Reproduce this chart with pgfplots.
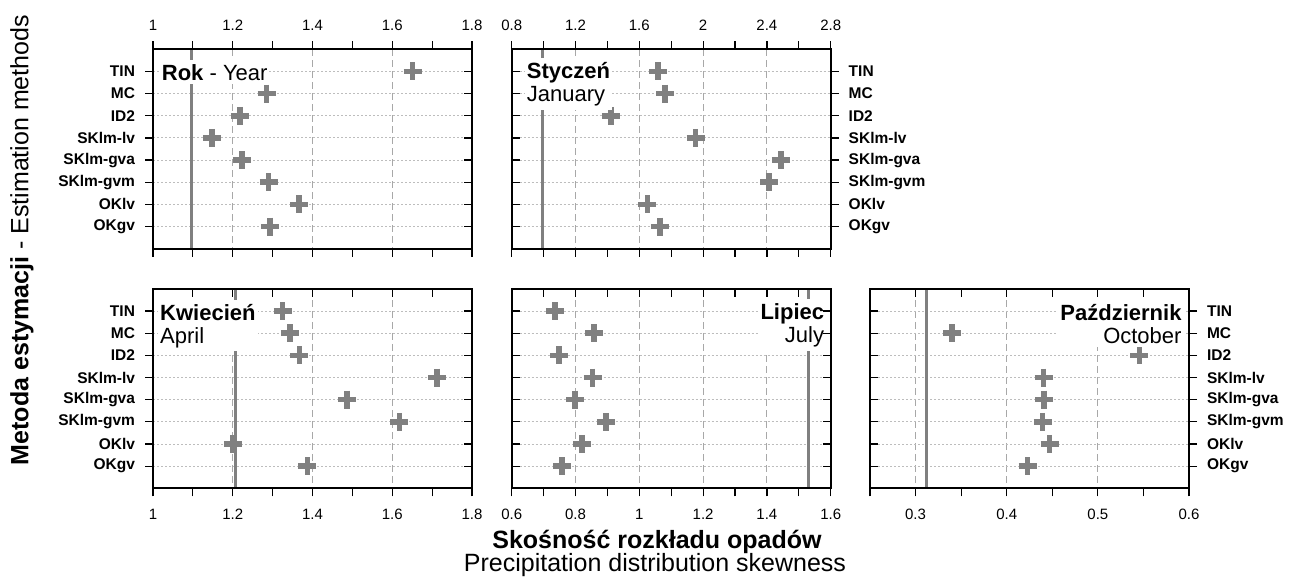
\documentclass[border=0pt]{standalone}
\usepackage{fontspec}
\setmainfont{Liberation Sans}
\usepackage{pgfplots}
\pgfplotsset{compat=1.18}

\definecolor{markgray}{HTML}{808080}
\definecolor{gridgray}{HTML}{A8A8A8}
\definecolor{dotgray}{HTML}{BDBDBD}

\pgfplotsset{
  skewpanel/.style={
    scale only axis, width=319pt, height=199.4pt, anchor=south west,
    ymin=0, ymax=9, y dir=reverse,
    ytick={1,2,3,4,5,6,7,8},
    yticklabels={TIN,MC,ID2,SKlm-lv,SKlm-gva,SKlm-gvm,OKlv,OKgv},
    axis line style={line width=2pt},
    every tick/.style={black, line width=1.2pt},
    major tick length=8pt, minor tick length=8pt,
    /pgf/number format/assume math mode=true,
    xticklabel style={font=\fontsize{15}{18}\selectfont},
    yticklabel style={font=\fontsize{15.5}{18}\selectfont\bfseries},
    yticklabel shift=6.5pt,
    xmajorgrids, ymajorgrids,
    x grid style={gridgray, dash pattern=on 7pt off 4pt, line width=0.9pt},
    y grid style={dotgray, dash pattern=on 2pt off 2pt, line width=0.9pt},
  },
  toprow/.style={xticklabel shift=7.5pt},
  bottomrow/.style={xticklabel shift=9.5pt},
  % second pass over a panel: only the inward ticks, drawn above the titles
  innerticks/.style={skewpanel, xmajorgrids=false, ymajorgrids=false,
    xticklabels={}, yticklabels={}, tick align=inside},
  crosses/.style={only marks, mark=+, mark size=9pt, color=markgray,
    mark options={line width=5.5pt, color=markgray}},
  refline/.style={no marks, line width=3pt, color=markgray},
}
\tikzset{
  titlebox/.style={fill=white, inner xsep=2pt, inner ysep=3pt,
    font=\fontsize{22}{23}\selectfont},
}
\newcommand{\firstline}{\rule{0pt}{17.5pt}}

\begin{document}
\begin{tikzpicture}
\useasboundingbox (0,0) rectangle (1292pt,578pt);

% ---------- Rok / Year ----------
\begin{axis}[skewpanel, toprow, at={(153pt,329.3pt)},
  xmin=1, xmax=1.8, xtick={1,1.2,1.4,1.6,1.8}, minor x tick num=1,
  xtick pos=both, xticklabel pos=right, xtick align=outside,
  ytick pos=left, yticklabel pos=left, ytick align=outside]
  \addplot[refline] coordinates {(1.096,0) (1.096,9)};
  \addplot[crosses] coordinates {(1.651,1) (1.285,2) (1.218,3) (1.148,4)
    (1.223,5) (1.290,6) (1.366,7) (1.293,8)};
\end{axis}

% ---------- Styczen / January ----------
\begin{axis}[skewpanel, toprow, at={(511.7pt,329.3pt)},
  xmin=0.8, xmax=2.8, xtick={0.8,1.2,1.6,2,2.4,2.8}, minor x tick num=1,
  xtick pos=both, xticklabel pos=right, xtick align=outside,
  ytick pos=right, yticklabel pos=right, ytick align=outside]
  \addplot[refline] coordinates {(0.994,0) (0.994,9)};
  \addplot[crosses] coordinates {(1.718,1) (1.762,2) (1.422,3) (1.953,4)
    (2.487,5) (2.414,6) (1.650,7) (1.729,8)};
\end{axis}

% ---------- Kwiecien / April ----------
\begin{axis}[skewpanel, bottomrow, at={(153pt,89.7pt)},
  xmin=1, xmax=1.8, xtick={1,1.2,1.4,1.6,1.8}, minor x tick num=1,
  xtick pos=left, xticklabel pos=left, xtick align=outside,
  ytick pos=left, yticklabel pos=left, ytick align=outside]
  \addplot[refline] coordinates {(1.206,0) (1.206,9)};
  \addplot[crosses] coordinates {(1.325,1) (1.343,2) (1.367,3) (1.712,4)
    (1.486,5) (1.618,6) (1.200,7) (1.387,8)};
\end{axis}

% ---------- Lipiec / July ----------
\begin{axis}[skewpanel, bottomrow, at={(511.7pt,89.7pt)},
  xmin=0.6, xmax=1.6, xtick={0.6,0.8,1,1.2,1.4,1.6}, minor x tick num=1,
  xtick pos=left, xticklabel pos=left, xtick align=outside,
  ytick pos=both, yticklabels={}, ytick style={draw=none}]
  \addplot[refline] coordinates {(1.529,0) (1.529,9)};
  \addplot[crosses] coordinates {(0.735,1) (0.858,2) (0.749,3) (0.854,4)
    (0.799,5) (0.895,6) (0.821,7) (0.758,8)};
\end{axis}

% ---------- Pazdziernik / October ----------
\begin{axis}[skewpanel, bottomrow, at={(870pt,89.7pt)},
  xmin=0.25, xmax=0.6, xtick={0.3,0.4,0.5,0.6}, minor xtick={0.25,0.35,0.45,0.55},
  xtick pos=left, xticklabel pos=left, xtick align=outside,
  ytick pos=right, yticklabel pos=right, ytick align=outside]
  \addplot[refline] coordinates {(0.3125,0) (0.3125,9)};
  \addplot[crosses] coordinates {(0.340,2) (0.5455,3) (0.4405,4)
    (0.441,5) (0.4395,6) (0.447,7) (0.423,8)};
\end{axis}

% ---------- panel titles ----------
\node[titlebox, anchor=north west, align=left] at (159.7pt,518pt)
  {\firstline\textbf{Rok} - Year};
\node[titlebox, anchor=north west, align=left] at (524.7pt,519.7pt)
  {\firstline\textbf{Styczeń}\\January};
\node[titlebox, anchor=north west, align=left] at (158pt,278pt)
  {\firstline\textbf{Kwiecień}\\April};
\node[titlebox, anchor=north east, align=right] at (826.3pt,278.7pt)
  {\firstline\textbf{Lipiec}\\July};
\node[titlebox, anchor=north east, align=right] at (1183.7pt,278pt)
  {\firstline\textbf{Październik}\\October};

% ---------- inward ticks ----------
\begin{axis}[innerticks, at={(153pt,329.3pt)},
  xmin=1, xmax=1.8, xtick=\empty, ytick pos=right]
\end{axis}
\begin{axis}[innerticks, at={(511.7pt,329.3pt)},
  xmin=0.8, xmax=2.8, xtick=\empty, ytick pos=left]
\end{axis}
\begin{axis}[innerticks, at={(153pt,89.7pt)},
  xmin=1, xmax=1.8, xtick={1,1.2,1.4,1.6,1.8}, minor x tick num=1,
  xtick pos=right, ytick pos=right]
\end{axis}
\begin{axis}[innerticks, at={(511.7pt,89.7pt)},
  xmin=0.6, xmax=1.6, xtick={0.6,0.8,1,1.2,1.4,1.6}, minor x tick num=1,
  xtick pos=right, ytick pos=both]
\end{axis}
\begin{axis}[innerticks, at={(870pt,89.7pt)},
  xmin=0.25, xmax=0.6, xtick={0.3,0.4,0.5,0.6}, minor xtick={0.25,0.35,0.45,0.55},
  xtick pos=right, ytick pos=left]
\end{axis}

% ---------- shared axis titles ----------
\node[rotate=90, anchor=base, font=\fontsize{25}{28}\selectfont]
  at (28.3pt,338pt) {\textbf{Metoda estymacji} - Estimation methods};
\node[anchor=base, font=\fontsize{25}{28}\selectfont\bfseries]
  at (657pt,30pt) {Skośność rozkładu opadów};
\node[anchor=base, font=\fontsize{25}{28}\selectfont]
  at (655pt,7pt) {Precipitation distribution skewness};
\end{tikzpicture}
\end{document}
